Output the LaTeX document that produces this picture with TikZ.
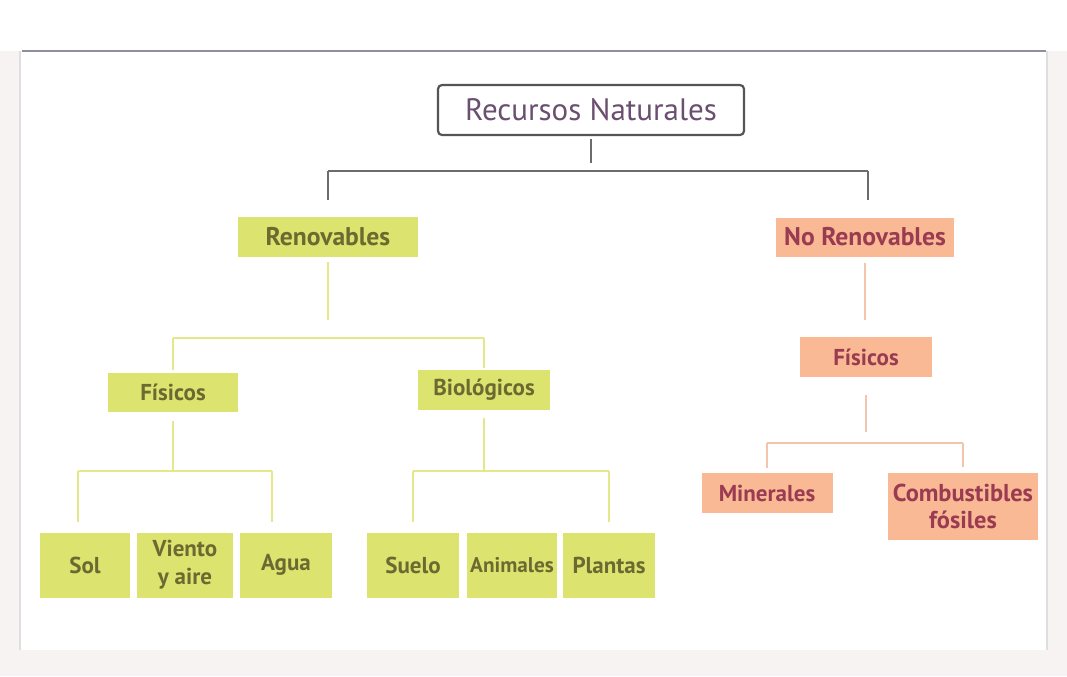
\documentclass[tikz,border=0pt]{standalone}
\usepackage{fontspec}
\setmainfont{PT Sans}
\definecolor{gfill}{HTML}{DDE36F}
\definecolor{gtext}{HTML}{6B6A30}
\definecolor{gline}{HTML}{E4E88A}
\definecolor{sfill}{HTML}{F9B994}
\definecolor{stext}{HTML}{9A3B52}
\definecolor{sline}{HTML}{F3C5AC}
\definecolor{rtext}{HTML}{6A4F70}
\definecolor{rdraw}{HTML}{555555}
\definecolor{bgout}{HTML}{F6F3F2}
\definecolor{frameline}{HTML}{8E8E9E}
\tikzset{
  gbox/.style={fill=gfill, text=gtext, inner sep=0pt, align=center, font=\fontsize{11.5}{14}\selectfont\bfseries},
  sbox/.style={fill=sfill, text=stext, inner sep=0pt, align=center, font=\fontsize{11.5}{13.5}\selectfont\bfseries},
  bigfont/.style={font=\fontsize{12.8}{15}\selectfont\bfseries},
  rbox/.style={draw=rdraw, line width=1.1pt, rounded corners=2pt, fill=white, text=rtext, inner sep=0pt, font=\fontsize{15.5}{18}\selectfont},
  topln/.style={draw=gray!85!black, line width=1pt},
  gln/.style={draw=gline, line width=1pt},
  sln/.style={draw=sline, line width=1pt}
}
\begin{document}
\begin{tikzpicture}[x=0.5pt, y=-0.5pt]
\useasboundingbox (0,0) rectangle (1067,676);
\fill[bgout] (0,0) rectangle (1067,676);
\fill[white!98!bgout] (0,0) rectangle (1067,51);
\fill[white] (20,51) rectangle (1047,650);
\draw[gray!25, line width=0.8pt] (20,51) -- (20,650) (1047,51) -- (1047,650);
\draw[frameline, line width=0.9pt] (22,51) -- (1046,51);

% nodes
\node[rbox, minimum width=153pt, minimum height=25pt] (rn) at (591,110) {Recursos Naturales};
\node[gbox, bigfont, minimum width=90pt, minimum height=20pt] (ren) at (328,237) {Renovables};
\node[sbox, bigfont, minimum width=89pt, minimum height=19.5pt] (nren) at (865,237) {No Renovables};
\node[gbox, minimum width=65pt, minimum height=19.5pt] (fis1) at (173,392) {Físicos};
\node[gbox, minimum width=66pt, minimum height=20pt] (bio) at (484,390) {Biológicos};
\node[sbox, minimum width=66pt, minimum height=20pt] (fis2) at (866,357) {Físicos};
\node[gbox, minimum width=45pt, minimum height=32.5pt] (sol) at (85,565) {Sol};
\node[gbox, minimum width=48pt, minimum height=32.5pt] (vie) at (185,565) {Viento\\y aire};
\node[gbox, minimum width=46pt, minimum height=32.5pt] (agu) at (286,565) {\raisebox{1.5pt}{Agua}};
\node[gbox, minimum width=46pt, minimum height=32.5pt] (sue) at (413,565) {Suelo};
\node[gbox, minimum width=45pt, minimum height=32.5pt, font=\fontsize{10.6}{12}\selectfont\bfseries] (ani) at (512,565) {Animales};
\node[gbox, minimum width=46pt, minimum height=32.5pt] (pla) at (609,565) {Plantas};
\node[sbox, minimum width=65.5pt, minimum height=20pt] (min) at (767,493) {Minerales};
\node[sbox, minimum width=75pt, minimum height=33.5pt, font=\fontsize{12.2}{13.5}\selectfont\bfseries] (com) at (963,506) {Combustibles\\fósiles};

% junction coordinates
\coordinate (ts) at (591,163);
\coordinate (tb) at (591,171);
\coordinate (rs) at (328,320);
\coordinate (rb) at (328,338);
\coordinate (f1b) at (173,471);
\coordinate (f1l) at (78,471);
\coordinate (f1r) at (272,471);
\coordinate (bb) at (484,471);
\coordinate (ns) at (865,320);
\coordinate (f2s) at (866,432);
\coordinate (f2b) at (866,443);
\coordinate (tr) at (868,171);

% top level
\draw[topln, shorten <=1.5pt] (rn) -- (ts);
\draw[topln] (ren |- tb) -- (tr);
\draw[topln, shorten >=8.5pt] (ren |- tb) -- (ren.north);
\draw[topln, shorten >=8.5pt] (tr) -- (tr |- nren.north);

% renovables branch
\draw[gln, shorten <=2.5pt] (ren) -- (rs);
\draw[gln] (fis1 |- rb) -- (bio |- rb);
\draw[gln, shorten >=1pt] (fis1 |- rb) -- (fis1.north);
\draw[gln, shorten >=1pt] (bio |- rb) -- (bio.north);

\draw[gln, shorten <=4.5pt] (fis1) -- (f1b);
\draw[gln] (f1l) -- (f1r);
\draw[gln, shorten >=5pt] (f1l) -- (f1l |- sol.north);
\draw[gln, shorten >=5pt] (f1r) -- (f1r |- vie.north);

\draw[gln, shorten <=4pt] (bio) -- (bb);
\draw[gln] (sue |- bb) -- (pla |- bb);
\draw[gln, shorten >=5pt] (sue |- bb) -- (sue.north);
\draw[gln, shorten >=5pt] (pla |- bb) -- (pla.north);

% no renovables branch
\draw[sln, shorten <=3pt] (nren) -- (ns);
\draw[sln, shorten <=9pt] (fis2) -- (f2s);
\draw[sln] (min |- f2b) -- (com |- f2b);
\draw[sln, shorten >=2.5pt] (min |- f2b) -- (min.north);
\draw[sln, shorten >=2.5pt] (com |- f2b) -- (com.north);
\end{tikzpicture}
\end{document}
